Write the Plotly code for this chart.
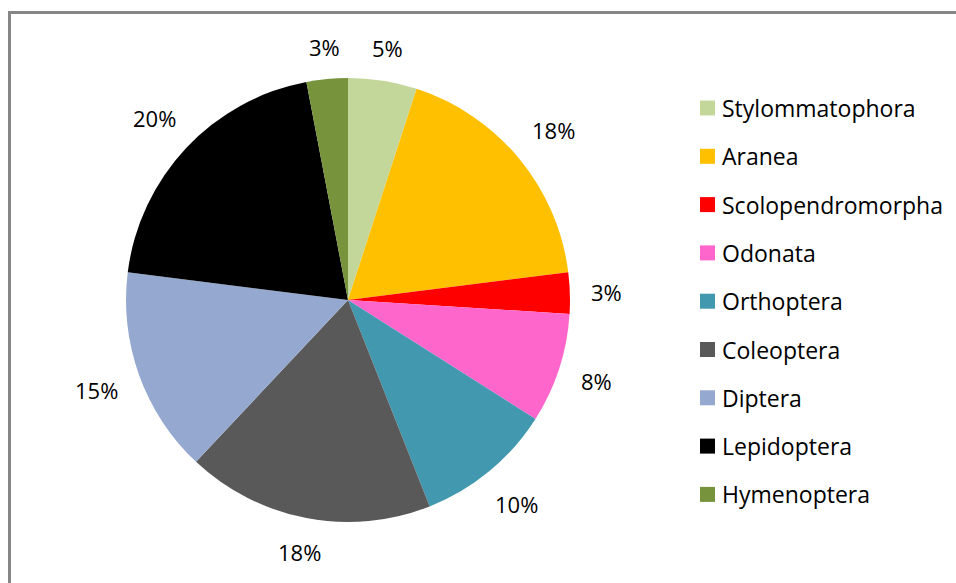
import math
import plotly.graph_objects as go

# Share of each taxonomic order (percent), in slice order clockwise from 12 o'clock
orders = ["Stylommatophora", "Aranea", "Scolopendromorpha", "Odonata", "Orthoptera",
          "Coleoptera", "Diptera", "Lepidoptera", "Hymenoptera"]
shares = [5, 18, 3, 8, 10, 18, 15, 20, 3]
colors = ["#C4D79B", "#FFC000", "#FF0000", "#FF66CC", "#4198AF",
          "#595959", "#95A9D0", "#000000", "#77933C"]

W, H = 956, 583
CX, CY, R = 348, 300, 222          # pie centre and radius in pixels
FONT = "Open Sans"
LABEL_SIZE = 22
LEGEND_SIZE = 23


def px(x):
    return x / W


def py(y):
    return 1 - y / H


fig = go.Figure(go.Pie(
    labels=orders,
    values=shares,
    sort=False,
    direction="clockwise",
    rotation=0,
    marker=dict(colors=colors, line=dict(width=0)),
    textinfo="none",
    hoverinfo="label+percent",
    showlegend=False,
    domain=dict(x=[px(CX - R), px(CX + R)], y=[py(CY + R), py(CY - R)]),
))

# Percentage labels placed just outside each slice, at its mid angle
total = sum(shares)
annotations = []
cum = 0
for v in shares:
    mid = (cum + v / 2) / total * 2 * math.pi
    cum += v
    txt = f"{round(v / total * 100)}%"
    sx, sy = math.sin(mid), -math.cos(mid)
    w = 12.6 * (len(txt) - 1) + 18.3   # approximate text box width
    h = 20
    ext = abs(sx) * w / 2 + abs(sy) * h / 2
    d = R + 21 + ext
    annotations.append(dict(
        x=px(CX + d * sx), y=py(CY + d * sy), xref="paper", yref="paper",
        text=txt, showarrow=False, xanchor="center", yanchor="middle",
        font=dict(family=FONT, size=LABEL_SIZE, color="#000000"),
    ))

# Legend: coloured squares with order names
shapes = []
LEG_X, LEG_Y0, LEG_DY, SQ = 700, 108, 48.3, 15
for i, (name, col) in enumerate(zip(orders, colors)):
    yc = LEG_Y0 + i * LEG_DY
    shapes.append(dict(type="rect", xref="paper", yref="paper",
                       x0=px(LEG_X), x1=px(LEG_X + SQ),
                       y0=py(yc + SQ / 2), y1=py(yc - SQ / 2),
                       fillcolor=col, line=dict(width=0)))
    annotations.append(dict(
        x=px(LEG_X + SQ + 5), y=py(yc), xref="paper", yref="paper",
        text=name, showarrow=False, xanchor="left", yanchor="middle",
        font=dict(family=FONT, size=LEGEND_SIZE, color="#000000"),
    ))

# Chart frame
shapes.append(dict(type="rect", xref="paper", yref="paper",
                   x0=px(9.5), x1=1.05, y0=-0.05, y1=py(12.5),
                   line=dict(color="#868686", width=3), fillcolor="rgba(0,0,0,0)"))

fig.update_layout(
    width=W, height=H,
    margin=dict(l=0, r=0, t=0, b=0),
    paper_bgcolor="#FFFFFF",
    plot_bgcolor="#FFFFFF",
    annotations=annotations,
    shapes=shapes,
    showlegend=False,
)

fig.write_html("out.html")
